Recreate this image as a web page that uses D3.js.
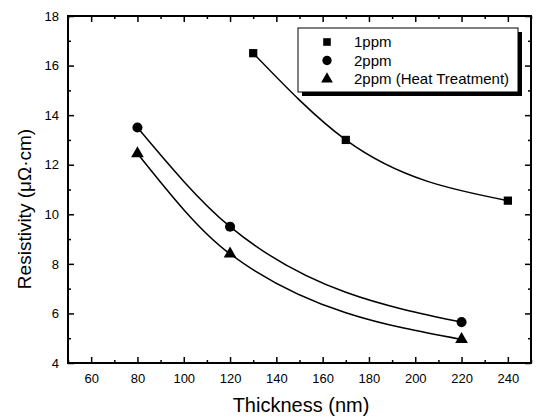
<!DOCTYPE html>
<html>
<head>
<meta charset="utf-8">
<script src="https://cdn.jsdelivr.net/npm/d3@7"></script>
<style>
  body { margin: 0; background: #fff; }
  text { font-family: Arial, "Liberation Sans", sans-serif; fill: #000; }
</style>
</head>
<body>
<svg id="chart" width="536" height="420"></svg>
<script>
// Data.
var seriesNames = ["1ppm", "2ppm", "2ppm (Heat Treatment)"];
var thick1ppm = [130, 170, 240];
var res1ppm = [16.5, 13.0, 10.55];
var thick2ppm = [80, 120, 220];
var res2ppm = [13.5, 9.5, 5.65];
var thickHT = [80, 120, 220];
var resHT = [12.45, 8.4, 4.95];
var xTicks = [60, 80, 100, 120, 140, 160, 180, 200, 220, 240];
var yTicks = [4, 6, 8, 10, 12, 14, 16, 18];

var svg = d3.select("#chart"),
    plotL = 68, plotR = 531, plotT = 16, plotB = 363;

var x = d3.scaleLinear().domain([50, 250]).range([plotL, plotR]);
var y = d3.scaleLinear().domain([4, 18]).range([plotB, plotT]);

var series = [
    {name: seriesNames[0], xs: thick1ppm, ys: res1ppm, sym: d3.symbolSquare, size: 68},
    {name: seriesNames[1], xs: thick2ppm, ys: res2ppm, sym: d3.symbolCircle, size: 80},
    {name: seriesNames[2], xs: thickHT, ys: resHT, sym: d3.symbolTriangle, size: 70}
];

// Minor ticks between the labelled ones.
var xMinor = d3.range(50, 251, 10).filter(function (v) { return xTicks.indexOf(v) < 0; });
var yMinor = d3.range(5, 18, 2);

function tickAxis(axis, scale, vals, len, fmt, pad) {
    return axis(scale).tickValues(vals).tickSizeInner(-len).tickSizeOuter(0)
        .tickPadding(len + pad).tickFormat(fmt);
}

// Bottom
svg.append("g").attr("transform", "translate(0," + plotB + ")")
    .call(tickAxis(d3.axisBottom, x, xTicks, 6, d3.format("d"), 5));
svg.append("g").attr("transform", "translate(0," + plotB + ")")
    .call(tickAxis(d3.axisBottom, x, xMinor, 3, "", 5));
// Top
svg.append("g").attr("transform", "translate(0," + plotT + ")")
    .call(tickAxis(d3.axisTop, x, xTicks, 6, "", 5));
svg.append("g").attr("transform", "translate(0," + plotT + ")")
    .call(tickAxis(d3.axisTop, x, xMinor, 3, "", 5));
// Left
svg.append("g").attr("transform", "translate(" + plotL + ",0)")
    .call(tickAxis(d3.axisLeft, y, yTicks, 6, d3.format("d"), 3));
svg.append("g").attr("transform", "translate(" + plotL + ",0)")
    .call(tickAxis(d3.axisLeft, y, yMinor, 3, "", 3));
// Right
svg.append("g").attr("transform", "translate(" + plotR + ",0)")
    .call(tickAxis(d3.axisRight, y, yTicks, 6, "", 3));
svg.append("g").attr("transform", "translate(" + plotR + ",0)")
    .call(tickAxis(d3.axisRight, y, yMinor, 3, "", 3));

svg.selectAll(".domain").remove();
svg.selectAll(".tick line").attr("stroke", "#000").attr("stroke-width", 1.5);
svg.selectAll(".tick text").style("font-size", "13px");

// Frame
svg.append("rect")
    .attr("x", plotL).attr("y", plotT)
    .attr("width", plotR - plotL).attr("height", plotB - plotT)
    .attr("fill", "none").attr("stroke", "#000").attr("stroke-width", 2);

// Curves
var line = d3.line()
    .x(function (d) { return x(d[0]); })
    .y(function (d) { return y(d[1]); })
    .curve(d3.curveMonotoneX);

series.forEach(function (s) {
    var pts = s.xs.map(function (v, i) { return [v, s.ys[i]]; });
    svg.append("path").datum(pts)
        .attr("d", line)
        .attr("fill", "none").attr("stroke", "#000").attr("stroke-width", 1.5);
    svg.selectAll(null).data(pts).enter().append("path")
        .attr("d", d3.symbol().type(s.sym).size(s.size))
        .attr("transform", function (d) { return "translate(" + x(d[0]) + "," + y(d[1]) + ")"; })
        .attr("fill", "#000");
});

// Legend with drop shadow
var lg = svg.append("g");
lg.append("rect").attr("x", 302).attr("y", 32).attr("width", 220).attr("height", 64).attr("fill", "#000");
lg.append("rect").attr("x", 298).attr("y", 28).attr("width", 220).attr("height", 64)
    .attr("fill", "#fff").attr("stroke", "#000").attr("stroke-width", 1);
series.forEach(function (s, i) {
    var yy = 42 + i * 18.5;
    lg.append("path").attr("d", d3.symbol().type(s.sym).size(s.size * 0.85))
        .attr("transform", "translate(327," + yy + ")").attr("fill", "#000");
    lg.append("text").attr("x", 354).attr("y", yy).attr("dy", "0.35em")
        .style("font-size", "15px").text(s.name);
});

// Axis titles
svg.append("text").attr("x", 301).attr("y", 412)
    .attr("text-anchor", "middle").style("font-size", "20px").text("Thickness (nm)");
svg.append("text").attr("transform", "translate(31,209) rotate(-90)")
    .attr("text-anchor", "middle").style("font-size", "19px").text("Resistivity (\u03bc\u03a9\u00b7cm)");
</script>
</body>
</html>
